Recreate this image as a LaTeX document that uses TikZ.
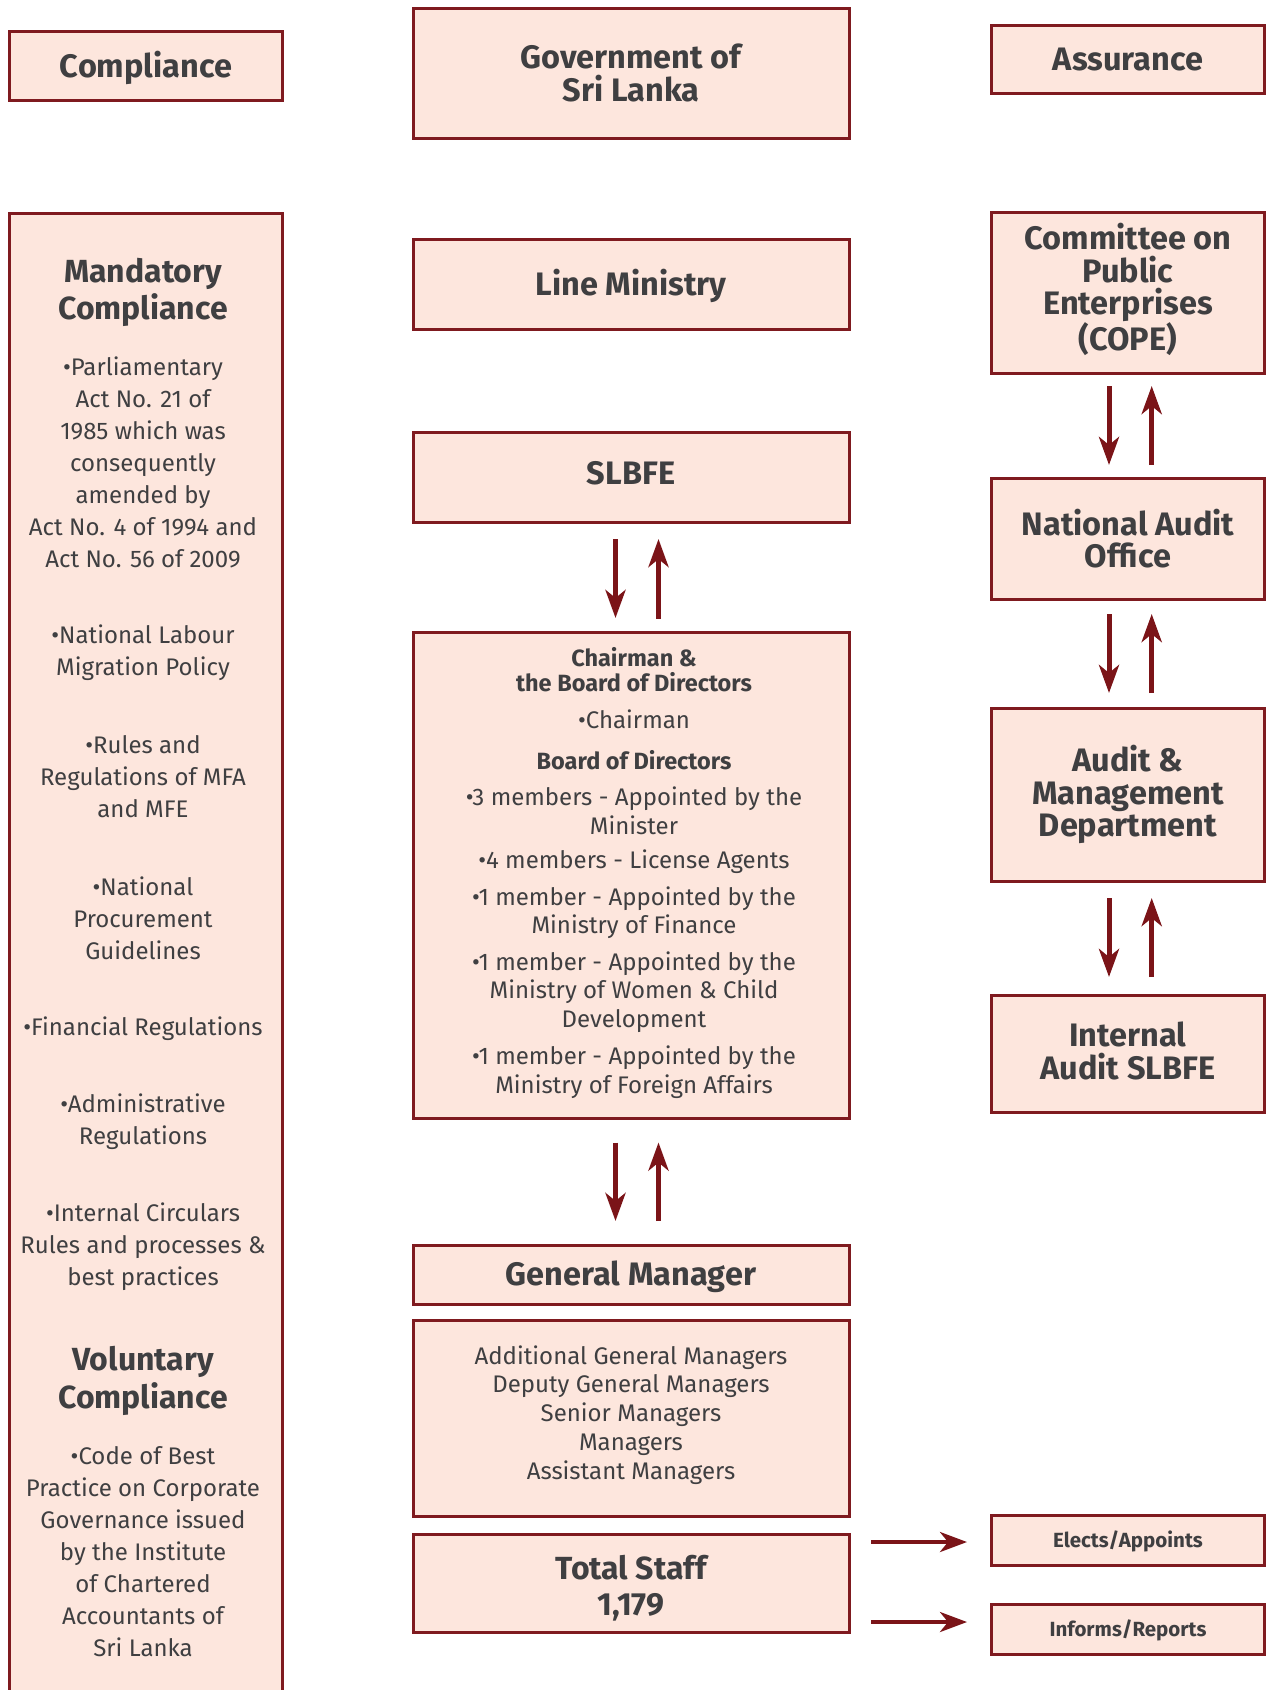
\documentclass[tikz,border=0pt]{standalone}
\usepackage{fontspec}
\setmainfont{Fira Sans}
\usetikzlibrary{arrows.meta}
\definecolor{boxfill}{HTML}{FDE6DD}
\definecolor{boxline}{HTML}{7F1A1F}
\definecolor{arrowred}{HTML}{7B1418}
\definecolor{ink}{HTML}{3F3F41}
\tikzset{
  orgbox/.style={draw=boxline, fill=boxfill, line width=3pt, inner sep=0pt, align=center, text=ink,
    font=\bfseries\fontsize{32.5}{33.4}\selectfont, text height=25pt, text depth=3pt},
  colbox/.style={orgbox, minimum width=436pt},
  sidebox/.style={orgbox, minimum width=273pt},
  boxtext/.style={text=ink, align=center, inner sep=0pt, font=\bfseries\fontsize{32.5}{32.7}\selectfont},
  listtext/.style={text=ink, align=center, inner sep=0pt, font=\fontsize{24}{32}\selectfont},
  headtext/.style={text=ink, align=center, inner sep=0pt, font=\bfseries\fontsize{32}{37.7}\selectfont},
  boardtext/.style={text=ink, align=center, inner sep=0pt, font=\fontsize{24}{28.5}\selectfont},
  arr/.style={draw=arrowred, line width=5pt, -{Stealth[length=28pt,width=20pt,inset=8pt]}},
  legarr/.style={draw=arrowred, line width=4pt, -{Stealth[length=27pt,width=20pt,inset=8pt]}},
}
\begin{document}
\begin{tikzpicture}[x=1pt,y=-1pt]
\useasboundingbox (0,0) rectangle (1266,1690);

% top row
\node[sidebox, minimum width=272.5pt, minimum height=69pt] (compl) at (146,66) {Compliance};
\node[colbox, minimum height=130pt, text height=, text depth=] (gov) at (631,73) {Government of\\Sri Lanka};
\node[sidebox, minimum height=68pt] (assur) at (1128,59) {Assurance};

% compliance column
\node[sidebox, minimum width=272.5pt, minimum height=1500pt, anchor=north] (mandbox) at (146,211.5) {};
\node[headtext] (mandhead) at (143,292.5) {Mandatory\\Compliance};
\node[listtext] (actno) at (143,462) {•Parliamentary\\Act No. 21 of\\1985 which was\\consequently\\amended by\\Act No. 4 of 1994 and\\Act No. 56 of 2009};
\node[listtext] (labour) at (143,652.5) {•National Labour\\Migration Policy};
\node[listtext] (rules) at (143,777) {•Rules and\\Regulations of MFA\\and MFE};
\node[listtext] (procure) at (143,918) {•National\\Procurement\\Guidelines};
\node[listtext] (finreg) at (143,1029) {•Financial Regulations};
\node[listtext] (admreg) at (143,1122) {•Administrative\\Regulations};
\node[listtext] (circ) at (143,1247) {•Internal Circulars\\Rules and processes \&\\best practices};
\node[headtext] (volhead) at (143,1381) {Voluntary\\Compliance};
\node[listtext] (code) at (143,1551.5) {•Code of Best\\Practice on Corporate\\Governance issued\\by the Institute\\of Chartered\\Accountants of\\Sri Lanka};

% centre column
\node[colbox, minimum height=90pt] (minis) at (631,284) {Line Ministry};
\node[colbox, minimum height=90pt, text height=22pt, text depth=8pt] (slbfe) at (631,477) {SLBFE};
\node[colbox, minimum height=486pt] (board) at (631,875) {};
\node[boardtext, font=\bfseries\fontsize{23.5}{24.8}\selectfont] (chairhead) at (634,669.5) {Chairman \&\\the Board of Directors};
\node[boardtext] (chair) at (634,719) {•Chairman};
\node[boardtext, font=\bfseries\fontsize{23.5}{25}\selectfont] (bodhead) at (634,760) {Board of Directors};
\node[boardtext] (mem3) at (634,811) {•3 members - Appointed by the\\Minister};
\node[boardtext] (mem4) at (634,862) {•4 members - License Agents};
\node[boardtext] (memfin) at (634,912.5) {•1 member - Appointed by the\\Ministry of Finance};
\node[boardtext] (memwom) at (634,992) {•1 member - Appointed by the\\Ministry of Women \& Child\\Development};
\node[boardtext] (memfor) at (634,1072) {•1 member - Appointed by the\\Ministry of Foreign Affairs};
\node[colbox, minimum height=59pt] (gm) at (631,1274.5) {General Manager};
\node[colbox, minimum height=196pt] (mgrs) at (631,1418) {};
\node[boxtext, font=\fontsize{24}{28.8}\selectfont] (mgrstext) at ([yshift=3.2pt]mgrs.center) {Additional General Managers\\Deputy General Managers\\Senior Managers\\Managers\\Assistant Managers};
\node[colbox, minimum height=98pt] (staff) at (631,1583) {};
\node[boxtext, font=\bfseries\fontsize{32}{35.6}\selectfont] (stafftext) at ([yshift=-5pt]staff.center) {Total Staff\\1,179};

% assurance column
\node[sidebox, minimum height=161pt] (cope) at (1128,292.5) {};
\node[boxtext] (copetext) at ([yshift=3pt]cope.center) {Committee on\\Public\\Enterprises\\(COPE)};
\node[sidebox, minimum height=121pt] (nao) at (1128,538.5) {};
\node[boxtext] (naotext) at (nao.center) {National Audit\\Office};
\node[sidebox, minimum height=173pt] (amd) at (1128,794.5) {};
\node[boxtext] (amdtext) at (amd.center) {Audit \&\\Management\\Department};
\node[sidebox, minimum height=117pt] (ias) at (1128,1053.5) {};
\node[boxtext] (iastext) at ([yshift=2.5pt]ias.center) {Internal\\Audit SLBFE};

% legend
\node[sidebox, minimum height=50pt, font=\bfseries\fontsize{20.5}{24}\selectfont, text height=17pt, text depth=3pt] (elects) at (1128,1540) {Elects/Appoints};
\node[sidebox, minimum height=50pt, font=\bfseries\fontsize{20.5}{24}\selectfont, text height=17pt, text depth=3pt] (informs) at (1128,1629) {Informs/Reports};

% arrows
\draw[arr] ([xshift=-15.5pt,yshift=-15.5pt]slbfe.south) -- ([xshift=-15.5pt,yshift=12.5pt]board.north);
\draw[arr] ([xshift=27.5pt,yshift=12pt]board.north) -- ([xshift=27.5pt,yshift=-15.5pt]slbfe.south);
\draw[arr] ([xshift=-15.5pt,yshift=-23pt]board.south) -- ([xshift=-15.5pt,yshift=22.5pt]gm.north);
\draw[arr] ([xshift=27.5pt,yshift=22.5pt]gm.north) -- ([xshift=27.5pt,yshift=-23pt]board.south);
\draw[arr] ([xshift=-19pt,yshift=-11.5pt]cope.south) -- ([xshift=-19pt,yshift=11.5pt]nao.north);
\draw[arr] ([xshift=23.7pt,yshift=11.5pt]nao.north) -- ([xshift=23.7pt,yshift=-11.5pt]cope.south);
\draw[arr] ([xshift=-19pt,yshift=-13.5pt]nao.south) -- ([xshift=-19pt,yshift=13.5pt]amd.north);
\draw[arr] ([xshift=23.7pt,yshift=13.5pt]amd.north) -- ([xshift=23.7pt,yshift=-13.5pt]nao.south);
\draw[arr] ([xshift=-19pt,yshift=-15.5pt]amd.south) -- ([xshift=-19pt,yshift=16.5pt]ias.north);
\draw[arr] ([xshift=23.7pt,yshift=16.5pt]ias.north) -- ([xshift=23.7pt,yshift=-15.5pt]amd.south);
\draw[legarr] ([xshift=-119pt,yshift=-2pt]elects.west) -- ([xshift=-23pt,yshift=-2pt]elects.west);
\draw[legarr] ([xshift=-119pt,yshift=7pt]informs.west) -- ([xshift=-23pt,yshift=7pt]informs.west);

\end{tikzpicture}
\end{document}
